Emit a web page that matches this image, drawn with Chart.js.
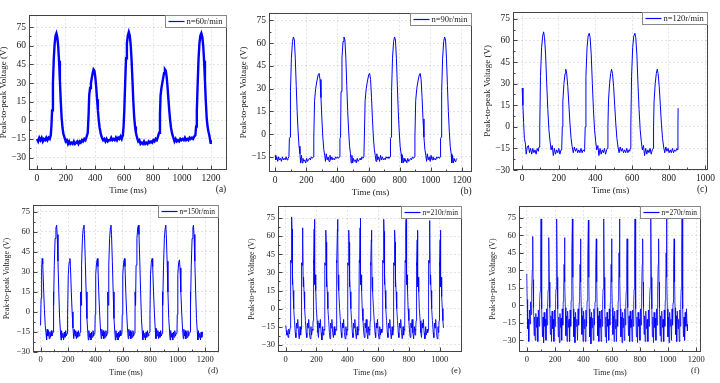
<!DOCTYPE html>
<html>
<head>
<meta charset="utf-8">
<script src="https://cdn.jsdelivr.net/npm/chart.js@4.4.1/dist/chart.umd.min.js"></script>
<style>
  html, body { margin: 0; padding: 0; background: #fff; }
  #fig { position: relative; width: 720px; height: 383px; overflow: hidden; background: #fff; }
  #fig canvas { position: absolute; }
</style>
</head>
<body>
<div id="fig"></div>
<script>
// waveforms, [time (ms), voltage (V)]
const wave60 = [[0,-15],[8,-17],[16,-14],[24,-16],[32,-14],[40,-17],[48,-15],[56,-16],[64,-14],[72,-16],[80,-14],[88,-15],[95,-12],[100,-4],[104,8],[110,30],[116,50],[122,62],[128,68],[134,70],[140,67],[146,60],[152,48],[158,32],[164,15],[170,2],[176,-6],[182,-11],[190,-14],[198,-17],[206,-16],[214,-19],[222,-17],[230,-19],[238,-18],[246,-19],[254,-17],[262,-19],[270,-18],[278,-17],[286,-19],[294,-17],[302,-18],[310,-16],[318,-17],[326,-15],[334,-16],[340,-14],[350,-10],[356,5],[360,20],[366,26],[372,30],[378,34],[384,38],[390,41],[396,40],[402,35],[408,27],[414,17],[420,8],[426,0],[432,-6],[440,-11],[448,-14],[456,-16],[464,-15],[472,-17],[480,-15],[488,-17],[496,-16],[504,-16],[512,-14],[520,-16],[528,-15],[536,-16],[544,-14],[552,-16],[560,-14],[568,-15],[576,-13],[584,-15],[592,-12],[597,-5],[602,8],[608,30],[614,50],[620,62],[626,68],[633,71],[640,68],[646,61],[652,49],[658,33],[664,16],[670,3],[676,-5],[682,-10],[690,-14],[698,-17],[706,-16],[714,-19],[722,-18],[730,-19],[738,-17],[746,-19],[754,-18],[762,-19],[770,-17],[778,-18],[786,-17],[794,-18],[802,-16],[810,-17],[818,-15],[826,-16],[832,-14],[842,-10],[848,5],[852,20],[858,26],[864,30],[870,34],[876,38],[882,41],[888,40],[894,35],[900,27],[906,17],[912,8],[918,0],[924,-6],[932,-11],[940,-14],[948,-17],[956,-15],[964,-17],[972,-16],[980,-17],[988,-15],[996,-16],[1004,-15],[1012,-16],[1020,-14],[1028,-16],[1036,-15],[1044,-16],[1052,-14],[1060,-15],[1068,-14],[1076,-15],[1084,-13],[1092,-12],[1097,-5],[1102,8],[1108,30],[1114,50],[1120,62],[1126,68],[1133,70],[1140,67],[1146,60],[1152,48],[1158,32],[1164,15],[1170,2],[1176,-5],[1182,-9],[1188,-12],[1194,-16],[1198,-19]];

const wave90 = [[0,-14],[4,-17],[10,-15],[16,-18],[22,-15],[28,-17],[34,-16],[40,-18],[46,-15],[52,-17],[58,-16],[64,-17],[70,-15],[76,-17],[82,-16],[88,-15],[91,-3],[95,-2],[98,28],[104,50],[111,61],[117,64],[123,62],[129,50],[135,32],[141,15],[147,2],[153,-8],[159,-13],[163,-19],[168,-14],[173,-19],[178,-16],[184,-18],[190,-17],[196,-19],[202,-16],[208,-18],[214,-17],[220,-16],[226,-17],[232,-15],[238,-16],[245,-15],[248,-2],[253,22],[260,30],[268,35],[276,39],[282,40],[288,36],[294,24],[300,10],[306,-2],[312,-10],[318,-14],[323,-18],[328,-13],[334,-17],[340,-15],[346,-18],[352,-14],[358,-17],[364,-15],[370,-17],[376,-16],[382,-17],[388,-15],[394,-16],[400,-15],[406,-16],[413,-15],[416,-3],[420,-2],[423,28],[429,50],[436,61],[442,64],[448,62],[454,50],[460,32],[466,15],[472,2],[478,-8],[484,-13],[488,-19],[493,-14],[498,-19],[503,-16],[509,-18],[515,-17],[521,-19],[527,-16],[533,-18],[539,-17],[545,-16],[551,-17],[557,-15],[563,-16],[570,-15],[573,-2],[578,22],[585,30],[593,35],[601,39],[607,40],[613,36],[619,24],[625,10],[631,-2],[637,-10],[643,-14],[648,-18],[653,-13],[659,-17],[665,-15],[671,-18],[677,-14],[683,-17],[689,-15],[695,-17],[701,-16],[707,-17],[713,-15],[719,-16],[725,-15],[731,-16],[738,-15],[741,-3],[745,-2],[748,28],[754,50],[761,61],[767,64],[773,62],[779,50],[785,32],[791,15],[797,2],[803,-8],[809,-13],[813,-19],[818,-14],[823,-19],[828,-16],[834,-18],[840,-17],[846,-19],[852,-16],[858,-18],[864,-17],[870,-16],[876,-17],[882,-15],[888,-16],[895,-15],[898,-2],[903,22],[910,30],[918,35],[926,39],[932,40],[938,36],[944,24],[950,10],[956,-2],[962,-10],[968,-14],[973,-18],[978,-13],[984,-17],[990,-15],[996,-18],[1002,-14],[1008,-17],[1014,-15],[1020,-17],[1026,-16],[1032,-17],[1038,-15],[1044,-16],[1050,-15],[1056,-16],[1060,-15],[1063,-3],[1067,-2],[1070,28],[1076,50],[1083,61],[1089,64],[1095,62],[1101,50],[1107,32],[1113,15],[1119,2],[1125,-8],[1131,-13],[1135,-19],[1140,-14],[1145,-19],[1150,-16],[1156,-18],[1162,-17],[1168,-16]];

const wave120 = [[0,27],[4,15],[8,3],[12,-8],[18,-12],[22,-19],[28,-14],[34,-13],[40,-18],[46,-15],[52,-19],[58,-15],[64,-18],[70,-16],[76,-19],[82,-15],[88,-17],[92,-14],[96,0],[100,35],[106,55],[112,63],[117,66],[122,62],[128,50],[134,30],[140,12],[146,-2],[152,-10],[158,-16],[164,-13],[170,-20],[176,-15],[182,-19],[188,-16],[194,-18],[200,-15],[206,-19],[212,-16],[216,-15],[219,0],[222,18],[228,30],[234,37],[238,40],[243,37],[249,28],[255,15],[261,2],[267,-8],[273,-14],[279,-18],[285,-14],[291,-17],[297,-15],[303,-18],[309,-16],[315,-18],[321,-15],[327,-18],[333,-16],[338,-17],[341,-15],[344,0],[348,35],[354,55],[360,63],[366,65],[371,62],[377,50],[383,30],[389,12],[395,-2],[401,-10],[407,-16],[413,-13],[419,-20],[425,-15],[431,-19],[437,-16],[443,-18],[449,-15],[455,-19],[461,-16],[465,-15],[468,0],[471,18],[477,30],[483,37],[488,40],[493,37],[499,28],[505,15],[511,2],[517,-8],[523,-14],[529,-18],[535,-14],[541,-17],[547,-15],[553,-18],[559,-16],[565,-18],[571,-15],[577,-18],[583,-16],[587,-17],[590,-15],[593,0],[597,35],[603,55],[609,63],[615,65],[620,62],[626,50],[632,30],[638,12],[644,-2],[650,-10],[656,-16],[662,-13],[668,-20],[674,-15],[680,-19],[686,-16],[692,-18],[698,-15],[704,-19],[710,-16],[714,-15],[717,0],[720,18],[726,30],[732,37],[737,40],[742,37],[748,28],[754,15],[760,2],[766,-8],[772,-14],[778,-18],[784,-14],[790,-17],[796,-15],[802,-18],[808,-16],[814,-18],[820,-15],[826,-18],[832,-16],[838,-17],[844,-15],[848,-16],[850,0],[851,13]];

const wave150 = [[0,-10],[4,10],[8,32],[12,40],[16,36],[22,18],[28,2],[34,-10],[40,-16],[44,-21],[48,-13],[53,-18],[58,-14],[63,-20],[68,-15],[73,-19],[78,-14],[83,-18],[88,-16],[93,-15],[94,15],[96,5],[100,35],[106,55],[112,63],[117,65],[121,58],[127,38],[133,15],[139,-5],[145,-15],[149,-21],[153,-14],[158,-19],[163,-16],[168,-21],[173,-15],[178,-19],[183,-14],[188,-18],[193,-16],[196,-15],[198,-2],[202,28],[208,37],[214,40],[218,34],[224,15],[230,0],[236,-12],[242,-20],[246,-13],[251,-18],[256,-14],[261,-20],[266,-15],[271,-19],[276,-14],[281,-18],[286,-16],[291,-15],[292,15],[295,5],[299,35],[305,55],[311,63],[316,65],[320,58],[326,38],[332,15],[338,-5],[344,-15],[348,-21],[352,-14],[357,-19],[362,-16],[367,-21],[372,-15],[377,-19],[382,-14],[387,-18],[392,-16],[396,-15],[398,-2],[402,28],[408,37],[414,40],[418,34],[424,15],[430,0],[436,-12],[442,-20],[446,-13],[451,-18],[456,-14],[461,-20],[466,-15],[471,-19],[476,-14],[481,-18],[486,-16],[489,-15],[490,15],[493,5],[497,35],[503,55],[509,63],[513,65],[517,58],[523,38],[529,15],[535,-5],[541,-15],[545,-21],[549,-14],[554,-19],[559,-16],[564,-21],[569,-15],[574,-19],[579,-14],[584,-18],[589,-16],[593,-15],[595,-2],[599,28],[605,37],[611,40],[615,34],[621,15],[627,0],[633,-12],[639,-20],[643,-13],[648,-18],[653,-14],[658,-20],[663,-15],[668,-19],[673,-14],[678,-18],[683,-16],[688,-15],[689,15],[692,5],[696,35],[702,55],[708,63],[713,65],[717,58],[723,38],[729,15],[735,-5],[741,-15],[745,-21],[749,-14],[754,-19],[759,-16],[764,-21],[769,-15],[774,-19],[779,-14],[784,-18],[789,-16],[795,-15],[797,-2],[801,28],[807,37],[813,40],[817,34],[823,15],[829,0],[835,-12],[841,-20],[845,-13],[850,-18],[855,-14],[860,-20],[865,-15],[870,-19],[875,-14],[880,-18],[885,-16],[888,-15],[889,15],[892,5],[896,35],[902,55],[908,63],[912,65],[916,58],[922,38],[928,15],[934,-5],[940,-15],[944,-21],[948,-14],[953,-19],[958,-16],[963,-21],[968,-15],[973,-19],[978,-14],[983,-18],[988,-16],[994,-15],[996,-2],[1000,28],[1006,37],[1012,39],[1016,33],[1022,15],[1028,0],[1034,-12],[1040,-20],[1044,-13],[1049,-18],[1054,-14],[1059,-20],[1064,-15],[1069,-19],[1074,-14],[1079,-18],[1084,-16],[1090,-15],[1091,15],[1094,5],[1098,35],[1104,55],[1110,63],[1114,65],[1118,58],[1124,38],[1130,15],[1136,-5],[1142,-15],[1146,-21],[1150,-14],[1155,-19],[1160,-16],[1165,-21],[1170,-15],[1175,-19],[1180,-15]];

const wave210 = [[0,-14],[4,-18],[8,-22],[12,-20],[16,-24],[20,-17],[24,-21],[29,-16],[31,-10],[33,40],[35,38],[38,68],[39,76],[41,66],[43,20],[45,28],[48,15],[52,0],[57,-10],[62,-20],[66,-24],[70,-12],[74,-16],[78,-9],[83,-20],[88,-25],[93,-15],[97,-22],[100,-17],[102,-10],[104,38],[106,36],[109,59],[110,67],[112,57],[114,18],[116,26],[119,14],[123,0],[128,-10],[133,-20],[137,-24],[141,-12],[145,-16],[149,-9],[154,-20],[159,-25],[164,-15],[168,-22],[173,-17],[176,-18],[178,-10],[180,40],[182,38],[185,66],[186,74],[188,64],[190,20],[192,28],[195,15],[199,0],[204,-10],[209,-20],[213,-24],[217,-12],[221,-16],[225,-9],[230,-20],[235,-26],[240,-15],[244,-22],[248,-17],[251,-18],[253,-10],[255,38],[257,36],[260,57],[261,65],[263,55],[265,18],[267,26],[270,14],[274,0],[279,-10],[284,-20],[288,-25],[292,-12],[296,-16],[300,-9],[305,-20],[310,-24],[315,-15],[319,-22],[323,-17],[327,-18],[329,-10],[331,40],[333,38],[336,66],[337,74],[339,64],[341,20],[343,28],[346,15],[350,0],[355,-10],[360,-20],[364,-24],[368,-12],[372,-16],[376,-9],[381,-20],[386,-25],[391,-15],[395,-22],[398,-17],[400,-18],[402,-10],[404,38],[406,36],[409,57],[410,65],[412,55],[414,18],[416,26],[419,14],[423,0],[428,-10],[433,-20],[437,-24],[441,-12],[445,-16],[449,-9],[454,-20],[459,-25],[464,-15],[468,-22],[471,-17],[474,-18],[476,-10],[478,40],[480,38],[483,67],[484,75],[486,65],[488,20],[490,28],[493,15],[497,0],[502,-10],[507,-20],[511,-24],[515,-12],[519,-16],[523,-9],[528,-20],[533,-25],[538,-15],[542,-22],[545,-17],[547,-18],[549,-10],[551,38],[553,36],[556,57],[557,65],[559,55],[561,18],[563,26],[566,14],[570,0],[575,-10],[580,-20],[584,-24],[588,-12],[592,-16],[596,-9],[601,-20],[606,-25],[611,-15],[615,-22],[619,-17],[624,-20],[627,-18],[629,-10],[631,40],[633,38],[636,66],[637,74],[639,64],[641,20],[643,28],[646,15],[650,0],[655,-10],[660,-20],[664,-24],[668,-12],[672,-16],[676,-9],[681,-20],[686,-25],[691,-15],[695,-22],[698,-18],[700,-10],[702,38],[704,36],[707,57],[708,65],[710,55],[712,18],[714,26],[717,14],[721,0],[726,-10],[731,-20],[735,-24],[739,-12],[743,-16],[747,-9],[752,-20],[757,-25],[762,-15],[766,-22],[769,-17],[772,-18],[774,-10],[776,40],[778,38],[781,66],[782,74],[784,64],[786,20],[788,28],[791,15],[795,0],[800,-10],[805,-20],[809,-24],[813,-12],[817,-16],[821,-9],[826,-20],[831,-25],[836,-15],[840,-22],[843,-17],[845,-18],[847,-10],[849,38],[851,36],[854,57],[855,65],[857,55],[859,18],[861,26],[864,14],[868,0],[873,-10],[878,-20],[882,-24],[886,-12],[890,-16],[894,-9],[899,-20],[904,-25],[909,-15],[913,-22],[919,-17],[922,-20],[925,-18],[927,-10],[929,40],[931,38],[934,65],[935,73],[937,63],[939,20],[941,28],[944,15],[948,0],[953,-10],[958,-20],[962,-24],[966,-12],[970,-16],[974,-9],[979,-20],[984,-25],[989,-15],[992,-20],[994,-18],[996,-10],[998,38],[1000,36],[1003,57],[1004,65],[1006,55],[1008,18],[1010,26],[1013,10],[1017,0],[1021,-10],[1025,-16]];

const wave270 = [[0,27],[3,5],[6,-20],[10,-12],[14,-31],[19,-4],[23,-16],[27,3],[31,-8],[35,13],[39,30],[42,59],[45,22],[48,-2],[52,-26],[56,-10],[60,-30],[64,-7],[69,-19],[73,-10],[78,-31],[82,-4],[87,-18],[91,4],[95,12],[98,40],[101,74],[104,25],[107,-3],[111,-27],[115,-10],[119,-32],[123,-6],[128,-18],[132,-12],[136,-30],[140,-3],[144,-17],[148,2],[151,13],[154,35],[157,58],[160,20],[163,-2],[167,-25],[171,-9],[175,-31],[179,-5],[184,-20],[188,-12],[192,-31],[196,-4],[200,-18],[204,5],[207,14],[210,45],[213,74],[216,24],[219,-3],[223,-27],[227,-10],[231,-32],[235,-7],[240,-19],[243,-11],[247,-30],[251,-3],[255,-17],[258,3],[261,12],[264,35],[267,58],[270,20],[273,-2],[277,-26],[281,-9],[285,-31],[289,-5],[294,-19],[299,-12],[303,-31],[307,-4],[311,-18],[314,4],[317,14],[320,45],[323,74],[326,24],[329,-3],[333,-27],[337,-10],[341,-32],[345,-6],[350,-18],[355,-12],[359,-30],[363,-3],[367,-17],[371,2],[374,12],[377,35],[380,57],[383,20],[386,-2],[390,-25],[394,-9],[398,-31],[402,-5],[407,-20],[411,-12],[415,-31],[419,-4],[423,-18],[427,4],[430,13],[433,44],[436,73],[439,24],[442,-3],[446,-27],[450,-10],[454,-33],[458,-6],[463,-19],[467,-11],[471,-30],[475,-3],[479,-17],[483,3],[486,12],[489,35],[492,57],[495,20],[498,-2],[502,-26],[506,-9],[510,-31],[514,-5],[518,-19],[522,-12],[526,-31],[530,-4],[534,-18],[537,4],[540,14],[543,45],[546,74],[549,24],[552,-3],[556,-27],[560,-10],[564,-32],[568,-6],[572,-18],[576,-12],[580,-30],[584,-3],[588,-17],[591,2],[594,12],[597,35],[600,57],[603,20],[606,-2],[610,-25],[614,-9],[618,-31],[622,-5],[627,-20],[631,-12],[635,-31],[639,-4],[643,-18],[647,4],[650,14],[653,45],[656,74],[659,24],[662,-3],[666,-27],[670,-10],[674,-32],[678,-6],[682,-19],[686,-11],[690,-30],[694,-3],[698,-17],[701,3],[704,12],[707,35],[710,57],[713,20],[716,-2],[720,-26],[724,-9],[728,-31],[732,-5],[737,-19],[741,-12],[745,-31],[749,-4],[753,-18],[757,4],[760,14],[763,45],[766,74],[769,24],[772,-3],[776,-27],[780,-10],[784,-32],[788,-6],[793,-18],[797,-12],[801,-30],[805,-3],[809,-17],[811,2],[814,12],[817,35],[820,57],[823,20],[826,-2],[830,-25],[834,-9],[838,-31],[842,-5],[848,-20],[853,-12],[857,-31],[861,-4],[865,-18],[869,4],[873,15],[876,46],[879,75],[882,24],[885,-3],[889,-27],[893,-10],[897,-32],[901,-6],[906,-19],[910,-11],[914,-30],[918,-3],[922,-17],[925,3],[927,12],[930,35],[933,57],[936,20],[939,-2],[943,-26],[947,-9],[951,-31],[955,-5],[961,-19],[965,-12],[969,-31],[973,-4],[977,-18],[980,4],[983,14],[986,45],[989,74],[992,24],[995,-3],[999,-27],[1003,-10],[1007,-32],[1011,-6],[1016,-18],[1020,-12],[1024,-30],[1028,-3],[1032,-17],[1035,2],[1037,12],[1040,35],[1043,57],[1046,20],[1049,-2],[1053,-25],[1057,-9],[1061,-31],[1065,-5],[1071,-20],[1075,-12],[1079,-31],[1083,-4],[1087,-18],[1090,4],[1093,14],[1096,45],[1099,74],[1102,24],[1105,-3],[1109,-27],[1113,-10],[1117,-30],[1121,-6],[1126,-18],[1130,-3],[1134,-16],[1137,-22]];

const speeds = ['n=60r/min', 'n=90r/min', 'n=120r/min', 'n=150r/min', 'n=210r/min', 'n=270r/min'];
const panelTags = ['(a)', '(b)', '(c)', '(d)', '(e)', '(f)'];
const xTicks1200 = [0, 200, 400, 600, 800, 1000, 1200];
const xTicks1000 = [0, 200, 400, 600, 800, 1000];
const yTicksFull = [-30, -15, 0, 15, 30, 45, 60, 75];
const yTicksTop = [-15, 0, 15, 30, 45, 60, 75];

const waves = [wave60, wave90, wave120, wave150, wave210, wave270];
const xTickSets = [xTicks1200, xTicks1200, xTicks1000, xTicks1200, xTicks1000, xTicks1200];
const yTickSets = [yTicksFull, yTicksTop, yTicksFull, yTicksFull, yTicksFull, yTicksFull];

// plot boxes on the page + axis ranges
const boxes = [
  { L: 29,  T: 12,  R: 227, B: 170, xr: [-55, 1310], yr: [-40, 85], fs: 9.5, lw: 2.4 },
  { L: 269, T: 10,  R: 472, B: 172, xr: [-40, 1265], yr: [-25, 80], fs: 9.5, lw: 1 },
  { L: 513, T: 9,   R: 712, B: 170, xr: [-50, 1015], yr: [-30, 80], fs: 9.5, lw: 1 },
  { L: 33,  T: 203, R: 219, B: 352, xr: [-55, 1300], yr: [-30, 80], fs: 8.5, lw: 1 },
  { L: 278, T: 204, R: 462, B: 352, xr: [-50, 1145], yr: [-36, 85], fs: 8.5, lw: 0.9 },
  { L: 519, T: 204, R: 702, B: 352, xr: [-55, 1235], yr: [-40, 85], fs: 8.5, lw: 0.8 }
];

const SERIF = '"Liberation Serif", "Times New Roman", serif';
const YW = 31, XH = 28, PT = 6, PR = 6;

const fmt = v => (v < 0 ? '\u2212' + Math.abs(v) : String(v));

// frame, inward ticks, inset legend and the panel letter
const decor = {
  id: 'decor',
  afterDatasetsDraw(chart, args, o) {
    const { ctx, chartArea: a, scales } = chart;
    const L = Math.round(a.left) + 0.5, R = Math.round(a.right) - 0.5;
    const T = Math.round(a.top) + 0.5, B = Math.round(a.bottom) - 0.5;
    ctx.save();
    ctx.strokeStyle = '#444';
    ctx.lineWidth = 1;
    ctx.strokeRect(L, T, R - L, B - T);

    ctx.beginPath();
    const xt = scales.x.ticks.map(t => t.value);
    xt.forEach((v, i) => {
      const px = Math.round(scales.x.getPixelForValue(v)) + 0.5;
      ctx.moveTo(px, B); ctx.lineTo(px, B - 4);
      if (i < xt.length - 1) {
        const pm = Math.round(scales.x.getPixelForValue((v + xt[i + 1]) / 2)) + 0.5;
        ctx.moveTo(pm, B); ctx.lineTo(pm, B - 2);
      }
    });
    const yt = scales.y.ticks.map(t => t.value);
    yt.forEach((v, i) => {
      const py = Math.round(scales.y.getPixelForValue(v)) + 0.5;
      ctx.moveTo(L, py); ctx.lineTo(L + 4, py);
      if (i < yt.length - 1) {
        const pm = Math.round(scales.y.getPixelForValue((v + yt[i + 1]) / 2)) + 0.5;
        ctx.moveTo(L, pm); ctx.lineTo(L + 2, pm);
      }
    });
    ctx.stroke();

    // legend box in the upper right corner
    ctx.font = (o.fs - 1) + 'px ' + SERIF;
    const tw = ctx.measureText(o.label).width;
    const w = Math.round(tw + 25), h = 12;
    const x0 = R - w, y0 = T;
    ctx.fillStyle = '#fff';
    ctx.fillRect(x0, y0, w, h);
    ctx.strokeStyle = '#888';
    ctx.strokeRect(x0, y0, w, h);
    ctx.strokeStyle = '#0000ff';
    ctx.lineWidth = 1.2;
    ctx.beginPath();
    ctx.moveTo(x0 + 3, y0 + 6); ctx.lineTo(x0 + 19, y0 + 6);
    ctx.stroke();
    ctx.fillStyle = '#222';
    ctx.textBaseline = 'middle';
    ctx.textAlign = 'left';
    ctx.fillText(o.label, x0 + 21, y0 + 6.5);

    ctx.font = o.fs + 'px ' + SERIF;
    ctx.textAlign = 'center';
    ctx.fillText(o.tag, a.right - 6, a.bottom + 19);
    ctx.restore();
  }
};

const fig = document.getElementById('fig');

boxes.forEach((b, i) => {
  const cv = document.createElement('canvas');
  const w = b.R - b.L + YW + PR, h = b.B - b.T + PT + XH;
  cv.width = w; cv.height = h;
  cv.style.width = w + 'px'; cv.style.height = h + 'px';
  cv.style.left = (b.L - YW) + 'px';
  cv.style.top = (b.T - PT) + 'px';
  fig.appendChild(cv);

  const font = { family: SERIF, size: b.fs };
  const grid = { color: 'rgba(0,0,0,0.14)', drawTicks: false, lineWidth: 0.8 };

  new Chart(cv, {
    type: 'line',
    data: {
      datasets: [{
        label: speeds[i],
        data: waves[i].map(p => ({ x: p[0], y: p[1] })),
        borderColor: '#0000ff',
        borderWidth: b.lw,
        pointRadius: 0,
        tension: 0,
        fill: false
      }]
    },
    options: {
      responsive: false,
      animation: false,
      events: [],
      layout: { padding: { top: PT, right: PR, left: 0, bottom: 0 } },
      plugins: {
        legend: { display: false },
        tooltip: { enabled: false },
        decor: { label: speeds[i], tag: panelTags[i], fs: b.fs }
      },
      scales: {
        x: {
          type: 'linear',
          min: b.xr[0], max: b.xr[1],
          afterBuildTicks: s => { s.ticks = xTickSets[i].map(v => ({ value: v })); },
          afterFit: s => { s.height = XH; },
          grid: grid,
          border: { display: false, dash: [2, 2] },
          ticks: { padding: 3, font: font, color: '#222', maxRotation: 0, autoSkip: false, callback: fmt },
          title: { display: true, text: 'Time (ms)', font: { family: SERIF, size: b.fs - 0.5 }, color: '#222', padding: { top: 0, bottom: 2 } }
        },
        y: {
          min: b.yr[0], max: b.yr[1],
          afterBuildTicks: s => { s.ticks = yTickSets[i].map(v => ({ value: v })); },
          afterFit: s => { s.width = YW; },
          grid: grid,
          border: { display: false, dash: [2, 2] },
          ticks: { padding: 3, font: font, color: '#222', autoSkip: false, callback: fmt },
          title: { display: true, text: 'Peak-to-peak Voltage (V)', font: { family: SERIF, size: b.fs - 0.5 }, color: '#222', padding: { top: 0, bottom: 0 } }
        }
      }
    },
    plugins: [decor]
  });
});
</script>
</body>
</html>
